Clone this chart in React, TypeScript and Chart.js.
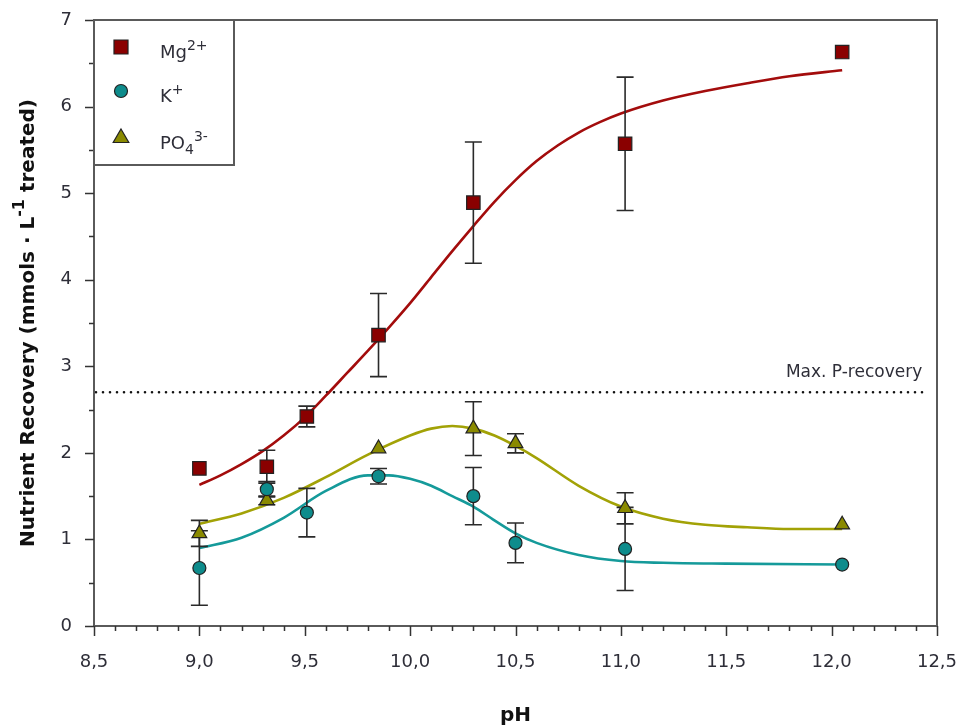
import React, { useEffect, useRef } from 'react';
import { Chart, registerables } from 'chart.js';

Chart.register(...registerables);

// Measured nutrient recovery (mmol per litre treated) at each pH, with standard deviations
const mgPH = [9.0, 9.32, 9.51, 9.85, 10.3, 11.02, 12.05];
const mgValues = [1.82, 1.84, 2.42, 3.36, 4.89, 5.57, 6.63];
const mgErrors = [0, 0.19, 0.12, 0.48, 0.7, 0.77, 0];

const kPH = [9.0, 9.32, 9.51, 9.85, 10.3, 10.5, 11.02, 12.05];
const kValues = [0.67, 1.58, 1.31, 1.73, 1.5, 0.96, 0.89, 0.71];
const kErrors = [0.43, 0.09, 0.28, 0.09, 0.33, 0.23, 0.48, 0];

const po4PH = [9.0, 9.32, 9.85, 10.3, 10.5, 11.02, 12.05];
const po4Values = [1.07, 1.45, 2.05, 2.28, 2.11, 1.36, 1.17];
const po4Errors = [0.15, 0.05, 0, 0.31, 0.11, 0.18, 0];

// Fitted trend curves
const mgFitPH = [9.0, 9.1, 9.2, 9.3, 9.4, 9.5, 9.6, 9.7, 9.8, 9.9, 10.0, 10.1, 10.2, 10.3, 10.4, 10.5, 10.6, 10.7, 10.8, 10.9, 11.0, 11.2, 11.4, 11.6, 11.8, 12.05];
const mgFitValues = [1.63, 1.74, 1.87, 2.02, 2.2, 2.41, 2.66, 2.92, 3.18, 3.45, 3.73, 4.03, 4.33, 4.62, 4.9, 5.15, 5.37, 5.55, 5.7, 5.82, 5.92, 6.07, 6.18, 6.27, 6.35, 6.42];

const kFitPH = [9.0, 9.2, 9.4, 9.6, 9.8, 9.9, 10.0, 10.1, 10.2, 10.3, 10.4, 10.5, 10.6, 10.8, 11.0, 11.2, 11.5, 12.05];
const kFitValues = [0.9, 1.02, 1.25, 1.56, 1.74, 1.74, 1.7, 1.62, 1.5, 1.38, 1.22, 1.07, 0.96, 0.82, 0.75, 0.73, 0.72, 0.71];

const po4FitPH = [9.0, 9.2, 9.4, 9.6, 9.8, 10.0, 10.1, 10.2, 10.3, 10.4, 10.5, 10.6, 10.8, 11.0, 11.2, 11.4, 11.6, 11.8, 12.05];
const po4FitValues = [1.18, 1.3, 1.48, 1.72, 1.98, 2.2, 2.28, 2.31, 2.28, 2.2, 2.08, 1.94, 1.62, 1.38, 1.24, 1.17, 1.14, 1.12, 1.12];

const maxPRecovery = 2.7;

const X_MIN = 8.5;
const X_MAX = 12.5;
const Y_MIN = 0;
const Y_MAX = 7;

const MG_FILL = '#8a0000';
const MG_LINE = '#a30c0c';
const K_FILL = '#0e8c8c';
const K_LINE = '#159a9a';
const PO4_FILL = '#8a8a00';
const PO4_LINE = '#a2a206';
const TEXT = '#2e2e38';
const FRAME = '#5a5a5a';
const FONT = '"DejaVu Sans", Verdana, sans-serif';

const toPoints = (xs: number[], ys: number[]) => xs.map((x, i) => ({ x, y: ys[i] }));

const errorSets = [
  { xs: mgPH, ys: mgValues, es: mgErrors },
  { xs: kPH, ys: kValues, es: kErrors },
  { xs: po4PH, ys: po4Values, es: po4Errors },
];

function drawMarker(ctx: CanvasRenderingContext2D, style: string, x: number, y: number, fill: string) {
  ctx.save();
  ctx.fillStyle = fill;
  ctx.strokeStyle = '#222';
  ctx.lineWidth = 1.2;
  ctx.beginPath();
  if (style === 'rect') {
    ctx.rect(x - 7, y - 7, 14, 14);
  } else if (style === 'circle') {
    ctx.arc(x, y, 6.5, 0, Math.PI * 2);
  } else {
    const r = 9;
    ctx.moveTo(x, y - r);
    ctx.lineTo(x + r * Math.sin((2 * Math.PI) / 3), y + r / 2);
    ctx.lineTo(x - r * Math.sin((2 * Math.PI) / 3), y + r / 2);
    ctx.closePath();
  }
  ctx.fill();
  ctx.stroke();
  ctx.restore();
}

// Draws text pieces in a row; each piece may be raised (sup) or lowered (sub)
function drawRich(
  ctx: CanvasRenderingContext2D,
  parts: { t: string; kind?: 'sup' | 'sub' }[],
  x: number,
  y: number,
  size: number,
  weight: string,
) {
  let cx = x;
  for (const p of parts) {
    const s = p.kind ? Math.round(size * 0.8) : size;
    ctx.font = `${weight} ${s}px ${FONT}`;
    const dy = p.kind === 'sup' ? -size * 0.45 : p.kind === 'sub' ? size * 0.3 : 0;
    ctx.fillText(p.t, cx, y + dy);
    cx += ctx.measureText(p.t).width;
  }
  return cx - x;
}

function richWidth(ctx: CanvasRenderingContext2D, parts: { t: string; kind?: 'sup' | 'sub' }[], size: number, weight: string) {
  let w = 0;
  for (const p of parts) {
    const s = p.kind ? Math.round(size * 0.8) : size;
    ctx.font = `${weight} ${s}px ${FONT}`;
    w += ctx.measureText(p.t).width;
  }
  return w;
}

const decorPlugin = {
  id: 'decor',
  beforeDatasetsDraw(chart: any) {
    const { ctx, chartArea, scales } = chart;
    const xs = scales.x;
    const ys = scales.y;
    chart.$errorsDone = false;

    // dotted reference line for maximum phosphorus recovery
    const yy = ys.getPixelForValue(maxPRecovery);
    ctx.save();
    ctx.strokeStyle = '#111';
    ctx.lineWidth = 2.6;
    ctx.lineCap = 'round';
    ctx.setLineDash([0, 7]);
    ctx.beginPath();
    ctx.moveTo(chartArea.left + 2, yy);
    ctx.lineTo(xs.getPixelForValue(12.45), yy);
    ctx.stroke();
    ctx.restore();

    ctx.save();
    ctx.fillStyle = TEXT;
    ctx.font = `17px ${FONT}`;
    ctx.textAlign = 'right';
    ctx.textBaseline = 'middle';
    ctx.fillText('Max. P-recovery', xs.getPixelForValue(12.43), yy - 20);
    ctx.restore();
  },
  beforeDatasetDraw(chart: any, args: any) {
    const ds = chart.data.datasets[args.index];
    if (!ds.isMeasured || chart.$errorsDone) return;
    chart.$errorsDone = true;
    const { ctx, scales } = chart;
    ctx.save();
    ctx.strokeStyle = '#2a2a2a';
    ctx.lineWidth = 1.6;
    for (const set of errorSets) {
      set.xs.forEach((xv, i) => {
        const e = set.es[i];
        if (!e) return;
        const px = scales.x.getPixelForValue(xv);
        const top = scales.y.getPixelForValue(set.ys[i] + e);
        const bot = scales.y.getPixelForValue(set.ys[i] - e);
        ctx.beginPath();
        ctx.moveTo(px, top);
        ctx.lineTo(px, bot);
        ctx.moveTo(px - 8.5, top);
        ctx.lineTo(px + 8.5, top);
        ctx.moveTo(px - 8.5, bot);
        ctx.lineTo(px + 8.5, bot);
        ctx.stroke();
      });
    }
    ctx.restore();
  },
  afterDraw(chart: any) {
    const { ctx, chartArea, scales } = chart;
    const { left, right, top, bottom } = chartArea;
    const xs = scales.x;
    const ys = scales.y;

    ctx.save();
    // frame
    ctx.strokeStyle = FRAME;
    ctx.lineWidth = 2;
    ctx.strokeRect(left, top, right - left, bottom - top);

    // tick marks: majors every 0.5 pH / 1 unit, minors every 0.1 pH / 0.5 unit
    ctx.strokeStyle = '#333';
    ctx.lineWidth = 1.5;
    ctx.beginPath();
    for (let i = Math.round(X_MIN * 10); i <= Math.round(X_MAX * 10); i++) {
      const px = Math.round(xs.getPixelForValue(i / 10)) + 0.5;
      const len = i % 5 === 0 ? 10 : 5;
      ctx.moveTo(px, bottom);
      ctx.lineTo(px, bottom + len);
    }
    for (let j = Y_MIN * 2; j <= Y_MAX * 2; j++) {
      const py = Math.round(ys.getPixelForValue(j / 2)) + 0.5;
      const len = j % 2 === 0 ? 9 : 5;
      ctx.moveTo(left, py);
      ctx.lineTo(left - len, py);
    }
    ctx.stroke();

    // legend box in the upper-left corner
    const lx0 = left;
    const ly0 = top;
    const lx1 = left + 140;
    const ly1 = top + 145;
    ctx.strokeStyle = FRAME;
    ctx.lineWidth = 2;
    ctx.strokeRect(lx0, ly0, lx1 - lx0, ly1 - ly0);

    const legendRows = [
      { style: 'rect', fill: MG_FILL, y: top + 27, parts: [{ t: 'Mg' }, { t: '2+', kind: 'sup' as const }] },
      { style: 'circle', fill: K_FILL, y: top + 71, parts: [{ t: 'K' }, { t: '+', kind: 'sup' as const }] },
      { style: 'triangle', fill: PO4_FILL, y: top + 118, parts: [{ t: 'PO' }, { t: '4', kind: 'sub' as const }, { t: '3-', kind: 'sup' as const }] },
    ];
    ctx.fillStyle = TEXT;
    ctx.textBaseline = 'alphabetic';
    ctx.textAlign = 'left';
    for (const row of legendRows) {
      drawMarker(ctx, row.style, left + 27, row.y, row.fill);
      ctx.fillStyle = TEXT;
      drawRich(ctx, row.parts, left + 66, row.y + 11, 18, 'normal');
    }

    // axis titles
    ctx.fillStyle = '#111';
    ctx.textAlign = 'center';
    ctx.textBaseline = 'middle';
    ctx.font = `bold 20px ${FONT}`;
    ctx.fillText('pH', (left + right) / 2, 716);

    const yTitle = [
      { t: 'Nutrient Recovery (mmols · L' },
      { t: '-1', kind: 'sup' as const },
      { t: ' treated)' },
    ];
    const size = 20;
    const w = richWidth(ctx, yTitle, size, 'bold');
    ctx.save();
    ctx.translate(29, (top + bottom) / 2);
    ctx.rotate(-Math.PI / 2);
    ctx.textAlign = 'left';
    ctx.textBaseline = 'middle';
    drawRich(ctx, yTitle, -w / 2, 0, size, 'bold');
    ctx.restore();

    ctx.restore();
  },
};

export default function App() {
  const canvasRef = useRef<HTMLCanvasElement | null>(null);

  useEffect(() => {
    document.body.style.margin = '0';
    const canvas = canvasRef.current;
    if (!canvas) return;

    const chart = new Chart(canvas, {
      type: 'scatter',
      data: {
        datasets: [
          {
            label: 'Mg2+',
            data: toPoints(mgPH, mgValues),
            pointStyle: 'rect',
            pointRadius: 9.5,
            pointBackgroundColor: MG_FILL,
            pointBorderColor: '#222',
            pointBorderWidth: 1.2,
            showLine: false,
            order: 0,
            isMeasured: true,
          } as any,
          {
            label: 'K+',
            data: toPoints(kPH, kValues),
            pointStyle: 'circle',
            pointRadius: 6.5,
            pointBackgroundColor: K_FILL,
            pointBorderColor: '#222',
            pointBorderWidth: 1.2,
            showLine: false,
            order: 0,
            isMeasured: true,
          } as any,
          {
            label: 'PO43-',
            data: toPoints(po4PH, po4Values),
            pointStyle: 'triangle',
            pointRadius: 8.5,
            pointBackgroundColor: PO4_FILL,
            pointBorderColor: '#222',
            pointBorderWidth: 1.2,
            showLine: false,
            order: 0,
            isMeasured: true,
          } as any,
          {
            label: 'Mg2+ fit',
            data: toPoints(mgFitPH, mgFitValues),
            showLine: true,
            borderColor: MG_LINE,
            borderWidth: 2.6,
            pointRadius: 0,
            cubicInterpolationMode: 'monotone',
            order: 1,
          } as any,
          {
            label: 'K+ fit',
            data: toPoints(kFitPH, kFitValues),
            showLine: true,
            borderColor: K_LINE,
            borderWidth: 2.6,
            pointRadius: 0,
            cubicInterpolationMode: 'monotone',
            order: 1,
          } as any,
          {
            label: 'PO43- fit',
            data: toPoints(po4FitPH, po4FitValues),
            showLine: true,
            borderColor: PO4_LINE,
            borderWidth: 2.6,
            pointRadius: 0,
            cubicInterpolationMode: 'monotone',
            order: 1,
          } as any,
        ],
      },
      options: {
        responsive: false,
        animation: false,
        events: [],
        layout: { padding: { top: 20, right: 24, left: 0, bottom: 0 } },
        plugins: {
          legend: { display: false },
          tooltip: { enabled: false },
        },
        scales: {
          x: {
            type: 'linear',
            min: X_MIN,
            max: X_MAX,
            grid: { display: false, drawTicks: false },
            border: { display: false },
            ticks: {
              stepSize: 0.5,
              autoSkip: false,
              maxRotation: 0,
              padding: 26,
              color: TEXT,
              font: { family: FONT, size: 18 },
              callback: (v: any) => Number(v).toFixed(1).replace('.', ','),
            },
            afterFit: (s: any) => {
              s.height = 102;
              s.paddingLeft = 0;
              s.paddingRight = 0;
            },
          },
          y: {
            type: 'linear',
            min: Y_MIN,
            max: Y_MAX,
            grid: { display: false, drawTicks: false },
            border: { display: false },
            ticks: {
              stepSize: 1,
              padding: 22,
              color: TEXT,
              font: { family: FONT, size: 18 },
            },
            afterFit: (s: any) => {
              s.width = 94;
              s.paddingTop = 0;
              s.paddingBottom = 0;
            },
          },
        },
      },
      plugins: [decorPlugin],
    });

    return () => chart.destroy();
  }, []);

  return (
    <div style={{ width: 961, height: 728 }}>
      <canvas ref={canvasRef} width={961} height={728} style={{ width: 961, height: 728, display: 'block' }} />
    </div>
  );
}
